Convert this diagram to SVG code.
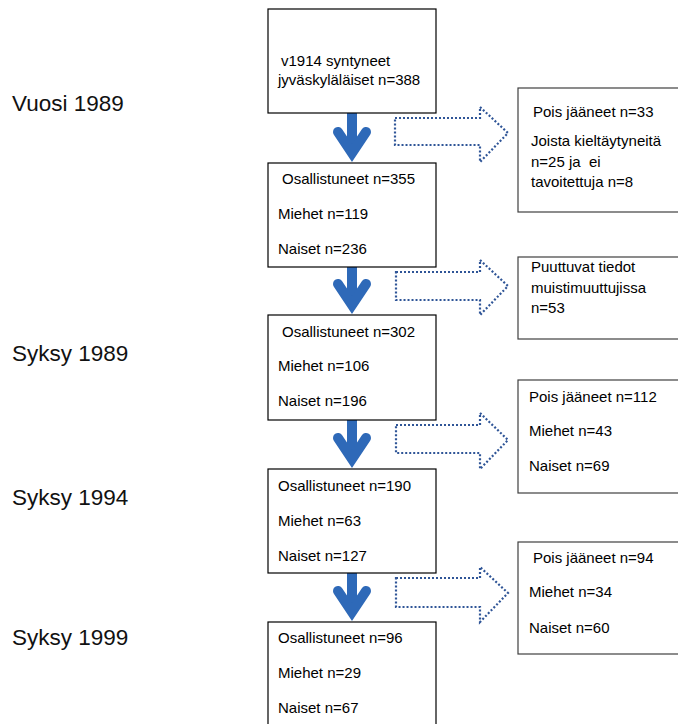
<svg xmlns="http://www.w3.org/2000/svg" width="678" height="724" viewBox="0 0 678 724">
<style>
.box{fill:#fff;stroke:#000;stroke-width:1.2}
.rbox{fill:#fff;stroke:#404040;stroke-width:1.2}
.t{font-family:"Liberation Sans",Arial,sans-serif;font-size:15px;fill:#000}
.lbl{font-family:"Liberation Sans",Arial,sans-serif;font-size:22.5px;fill:#111}
.shaft{stroke:#2E69B8;stroke-width:10;fill:none}
.head{stroke:#2E69B8;stroke-width:10;fill:none;stroke-linecap:round;stroke-linejoin:miter}
.dot{fill:none;stroke:#2F5597;stroke-width:2.2;stroke-dasharray:2 2}
</style>
<defs>
<g id="down">
<line class="shaft" x1="352" y1="-50" x2="352" y2="-12"/>
<polyline class="head" points="338,-31 352,-10 366,-31"/>
</g>
</defs>
<g id="labels">
<text class="lbl" x="12" y="111">Vuosi 1989</text>
<text class="lbl" x="12" y="361">Syksy 1989</text>
<text class="lbl" x="12" y="505">Syksy 1994</text>
<text class="lbl" x="12" y="645">Syksy 1999</text>
</g>
<g id="connectors">
<use href="#down" transform="translate(0,163)"/>
<use href="#down" transform="translate(0,315)"/>
<use href="#down" transform="translate(0,469)"/>
<use href="#down" transform="translate(0,622)"/>
<path class="dot" d="M395,118 H480 V107 L508,133 L480,162 V145 H395 Z"/>
<path class="dot" d="M396,272 H480 V260 L508,286 L480,315 V300 H396 Z"/>
<path class="dot" d="M396,425 H480 V413 L508,440 L480,469 V453 H396 Z"/>
<path class="dot" d="M396,578 H480 V567 L508,593 L480,622 V607 H396 Z"/>
</g>
<g id="n1">
<rect class="box" x="268" y="9" width="168" height="104"/>
<text class="t" x="281" y="66">v1914 syntyneet</text>
<text class="t" x="278" y="85">jyväskyläläiset n=388</text>
</g>
<g id="n2">
<rect class="box" x="268" y="163" width="168" height="104"/>
<text class="t" x="282" y="184">Osallistuneet n=355</text>
<text class="t" x="278" y="219">Miehet n=119</text>
<text class="t" x="278" y="254">Naiset n=236</text>
</g>
<g id="n3">
<rect class="box" x="268" y="315" width="168" height="105"/>
<text class="t" x="282" y="337">Osallistuneet n=302</text>
<text class="t" x="278" y="371">Miehet n=106</text>
<text class="t" x="278" y="406">Naiset n=196</text>
</g>
<g id="n4">
<rect class="box" x="268" y="469" width="168" height="104"/>
<text class="t" x="278" y="491">Osallistuneet n=190</text>
<text class="t" x="278" y="526">Miehet n=63</text>
<text class="t" x="278" y="561">Naiset n=127</text>
</g>
<g id="n5">
<rect class="box" x="268" y="622" width="168" height="112"/>
<text class="t" x="278" y="643">Osallistuneet n=96</text>
<text class="t" x="278" y="678">Miehet n=29</text>
<text class="t" x="278" y="713">Naiset n=67</text>
</g>
<g id="r1">
<rect class="rbox" x="518" y="88" width="200" height="124"/>
<text class="t" x="533" y="117">Pois jääneet n=33</text>
<text class="t" x="531" y="146">Joista kieltäytyneitä</text>
<text class="t" x="531" y="167" xml:space="preserve">n=25 ja  ei</text>
<text class="t" x="531" y="187">tavoitettuja n=8</text>
</g>
<g id="r2">
<rect class="rbox" x="518" y="257" width="200" height="82"/>
<text class="t" x="531" y="272">Puuttuvat tiedot</text>
<text class="t" x="531" y="293">muistimuuttujissa</text>
<text class="t" x="531" y="313">n=53</text>
</g>
<g id="r3">
<rect class="rbox" x="518" y="380" width="200" height="113"/>
<text class="t" x="529" y="402">Pois jääneet n=112</text>
<text class="t" x="529" y="436">Miehet n=43</text>
<text class="t" x="529" y="471">Naiset n=69</text>
</g>
<g id="r4">
<rect class="rbox" x="518" y="542" width="200" height="112"/>
<text class="t" x="533" y="563">Pois jääneet n=94</text>
<text class="t" x="529" y="597">Miehet n=34</text>
<text class="t" x="529" y="633">Naiset n=60</text>
</g>
</svg>
